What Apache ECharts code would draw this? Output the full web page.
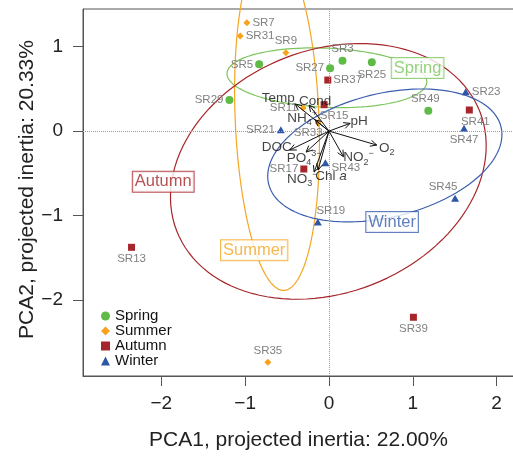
<!DOCTYPE html>
<html><head><meta charset="utf-8">
<script src="https://cdn.jsdelivr.net/npm/echarts@6/dist/echarts.min.js"></script>
<style>html,body{margin:0;padding:0;background:#fff}#c{width:513px;height:459px}</style>
</head><body><div id="c"></div>
<script>
// ---------- data ----------
const xTicks = [-2, -1, 0, 1, 2];
const yTicks = [-2, -1, 0, 1];

const springNames = ['SR5', 'SR29', 'SR27', 'SR3', 'SR25', 'SR49'];
const springX = [-0.833, -1.187, 0.014, 0.161, 0.511, 1.185];
const springY = [0.791, 0.368, 0.744, 0.834, 0.815, 0.242];

const summerNames = ['SR7', 'SR31', 'SR9', 'SR11', 'SR33', 'SR35'];
const summerX = [-0.979, -1.059, -0.514, -0.308, -0.129, -0.729];
const summerY = [1.284, 1.127, 0.929, 0.274, 0.096, -2.739];

const autumnNames = ['SR37', 'SR15', 'SR17', 'SR13', 'SR39', 'SR41'];
const autumnX = [-0.014, -0.058, -0.300, -2.355, 1.007, 1.674];
const autumnY = [0.605, 0.313, -0.449, -1.377, -2.206, 0.250];

const winterNames = ['SR21', 'SR43', 'SR19', 'SR23', 'SR47', 'SR45'];
const winterX = [-0.574, -0.042, -0.133, 1.631, 1.611, 1.504];
const winterY = [0.017, -0.374, -1.077, 0.467, 0.033, -0.796];

const varNames = ['Temp', 'Cond', 'NH4', 'pH', 'O2', 'NO2', 'DOC', 'PO4', 'NO3', 'Chla'];
const varX = [-0.403, -0.237, -0.165, 0.252, 0.570, 0.172, -0.467, -0.272, -0.177, -0.130];
const varY = [0.321, 0.309, 0.132, 0.092, -0.165, -0.303, -0.224, -0.248, -0.485, -0.461];

// ---------- layout / style ----------
const XMIN = -2.934, XMAX = 2.207, YMIN = -2.902, YMAX = 1.447;
const FONT = '"Liberation Sans", Arial, Helvetica, sans-serif';
const colors = { Spring: '#5DBB46', Summer: '#F7A21B', Autumn: '#A6262B', Winter: '#2E56A6' };
const ellipseColors = { Spring: '#7CC55C', Summer: '#F5A623', Autumn: '#A6262B', Winter: '#3A5FAE' };
const classLabelPos = { Spring: [1.057, 0.748], Autumn: [-1.977, -0.600], Summer: [-0.892, -1.412], Winter: [0.753, -1.077] };
const pointLabel = {
  SR5: ['left'], SR29: ['left'], SR27: ['left'], SR3: ['top'], SR25: ['bottom'], SR49: ['top', [-3, 0]],
  SR7: ['right'], SR31: ['right'], SR9: ['top'], SR11: ['left'], SR33: ['bottom', [-10, -2]], SR35: ['top'],
  SR37: ['right'], SR15: ['bottom', [10, 0]], SR17: ['left'], SR13: ['bottom'], SR39: ['bottom'], SR41: ['bottom', [6, 0]],
  SR21: ['left'], SR43: ['right', [0, 5]], SR19: ['top', [13, 0]], SR23: ['right'], SR47: ['bottom'], SR45: ['top', [-12, 0]]
};
const varLabel = {
  Temp: ['{m|Temp}', [-17, -6]],
  Cond: ['{m|Cond}', [6, -4]],
  NH4: ['{m|NH}{s|4}{p|+}', [-13, -2]],
  pH: ['{m|pH}', [9, -2]],
  O2: ['{m|O}{s|2}', [10, 3]],
  NO2: ['{m|NO}{s|2}{p|−}', [15, 1]],
  DOC: ['{m|DOC}', [-13, -3]],
  PO4: ['{m|PO}{s|4}{p|3−}', [-2, 6]],
  NO3: ['{m|NO}{s|3}{p|−}', [-12, 7]],
  Chla: ['{m|Chl }{i|a}', [13, 6]]
};

// ade4-style inertia ellipse (cellipse = 1.5) computed from class points
function classEllipse(xs, ys, coeff) {
  const n = xs.length;
  const mx = xs.reduce((a, b) => a + b, 0) / n;
  const my = ys.reduce((a, b) => a + b, 0) / n;
  let vx = 0, vy = 0, cxy = 0;
  for (let i = 0; i < n; i++) {
    vx += (xs[i] - mx) ** 2 / n; vy += (ys[i] - my) ** 2 / n; cxy += (xs[i] - mx) * (ys[i] - my) / n;
  }
  const delta = Math.sqrt((vx - vy) ** 2 + 4 * cxy * cxy);
  let l1 = (vx + vy + delta) / 2, l2 = vx + vy - l1;
  l1 = Math.sqrt(Math.max(l1, 0)); l2 = Math.sqrt(Math.max(l2, 0));
  let a0 = 1, b0 = (l1 * l1 - vx) / cxy;
  const nn = Math.sqrt(a0 * a0 + b0 * b0); a0 /= nn; b0 /= nn;
  const c11 = coeff * a0 * l1, c12 = -coeff * b0 * l2, c21 = coeff * b0 * l1, c22 = coeff * a0 * l2;
  const pts = [];
  for (let i = 0; i <= 120; i++) {
    const t = 2 * Math.PI * i / 120;
    pts.push([mx + c11 * Math.cos(t) + c12 * Math.sin(t), my + c21 * Math.cos(t) + c22 * Math.sin(t)]);
  }
  return pts;
}

const groups = [
  { name: 'Spring', names: springNames, xs: springX, ys: springY, symbol: 'circle', size: 8 },
  { name: 'Summer', names: summerNames, xs: summerX, ys: summerY, symbol: 'diamond', size: 7 },
  { name: 'Autumn', names: autumnNames, xs: autumnX, ys: autumnY, symbol: 'rect', size: 7 },
  { name: 'Winter', names: winterNames, xs: winterX, ys: winterY, symbol: 'triangle', size: [8, 7] }
];

const series = [];
// zero reference lines
series.push({
  type: 'scatter', data: [], silent: true, z: 1,
  markLine: {
    silent: true, symbol: ['none', 'none'], label: { show: false },
    lineStyle: { type: 'dotted', color: '#9a9a9a', width: 1 },
    data: [{ xAxis: 0 }, { yAxis: 0 }], animation: false
  }
});
// ellipses
groups.forEach(g => {
  series.push({
    type: 'line', name: g.name + ' ellipse', data: classEllipse(g.xs, g.ys, 1.5),
    showSymbol: false, symbol: 'none', clip: false, silent: true, z: 2,
    lineStyle: { color: ellipseColors[g.name], width: 1.2 }
  });
});
// points
groups.forEach(g => {
  series.push({
    type: 'scatter', name: g.name, symbol: g.symbol, symbolSize: g.size, z: 3,
    itemStyle: { color: colors[g.name], opacity: 1 },
    data: g.names.map((nm, i) => {
      const pl = pointLabel[nm] || ['top'];
      return { name: nm, value: [g.xs[i], g.ys[i]], label: { position: pl[0], offset: pl[1] || [0, 0] } };
    }),
    label: { show: true, formatter: p => p.name, color: '#808080', fontSize: 11.5, fontFamily: FONT, distance: 2 }
  });
});
// arrows
series.push({
  type: 'custom', z: 5, silent: true,
  data: varX.map((x, i) => [x, varY[i]]),
  renderItem: function (params, api) {
    const p0 = api.coord([0, 0]);
    const p1 = api.coord([api.value(0), api.value(1)]);
    const ang = Math.atan2(p1[1] - p0[1], p1[0] - p0[0]);
    const L = 7, a = Math.PI / 7;
    const h1 = [p1[0] - L * Math.cos(ang - a), p1[1] - L * Math.sin(ang - a)];
    const h2 = [p1[0] - L * Math.cos(ang + a), p1[1] - L * Math.sin(ang + a)];
    return {
      type: 'group', children: [
        { type: 'line', shape: { x1: p0[0], y1: p0[1], x2: p1[0], y2: p1[1] }, style: { stroke: '#111', lineWidth: 1 } },
        { type: 'polyline', shape: { points: [h1, p1, h2] }, style: { stroke: '#111', fill: null, lineWidth: 1 } }
      ]
    };
  }
});
// arrow labels
series.push({
  type: 'scatter', symbolSize: 0, silent: true, z: 6,
  data: varNames.map((nm, i) => ({
    name: nm, value: [varX[i], varY[i]],
    label: { formatter: varLabel[nm][0], offset: varLabel[nm][1] }
  })),
  label: {
    show: true, position: 'inside',
    rich: {
      m: { fontSize: 13.5, color: '#111', fontFamily: FONT, lineHeight: 18 },
      i: { fontSize: 13.5, color: '#111', fontFamily: FONT, fontStyle: 'italic', lineHeight: 18 },
      s: { fontSize: 9, color: '#111', fontFamily: FONT, lineHeight: 10, verticalAlign: 'bottom' },
      p: { fontSize: 9, color: '#111', fontFamily: FONT, lineHeight: 10, verticalAlign: 'top' }
    }
  }
});
// class labels
series.push({
  type: 'scatter', symbolSize: 0, silent: true, z: 7,
  data: groups.map(g => ({
    name: g.name, value: classLabelPos[g.name],
    label: { color: ellipseColors[g.name], borderColor: ellipseColors[g.name] }
  })),
  label: {
    show: true, position: 'inside', formatter: p => p.name, fontSize: 16.5, fontFamily: FONT,
    backgroundColor: '#fff', borderWidth: 1, padding: [2, 2, 1, 2]
  }
});

const fmt = v => (v < 0 ? '−' + Math.abs(v) : String(v));
const option = {
  animation: false,
  backgroundColor: '#fff',
  grid: { left: 83, top: 9, width: 431, height: 367, show: true, borderColor: '#555', borderWidth: 1, backgroundColor: 'transparent', containLabel: false, outerBoundsMode: 'none' },
  xAxis: {
    type: 'value', min: XMIN, max: XMAX,
    name: 'PCA1, projected inertia: 22.00%', nameLocation: 'middle', nameGap: 54,
    nameTextStyle: { fontSize: 21, color: '#222', fontFamily: FONT },
    axisLine: { show: true, onZero: false, lineStyle: { color: '#555', width: 1 } },
    axisTick: { show: true, length: 10, customValues: xTicks, lineStyle: { color: '#555' } },
    axisLabel: { customValues: xTicks, formatter: fmt, fontSize: 19, color: '#222', margin: 18, fontFamily: FONT },
    splitLine: { show: false }
  },
  yAxis: {
    type: 'value', min: YMIN, max: YMAX,
    name: 'PCA2, projected inertia: 20.33%', nameLocation: 'middle', nameGap: 45, nameMoveOverlap: false,
    nameTextStyle: { fontSize: 21, color: '#222', fontFamily: FONT, padding: [0, 0, 0, 6] },
    axisLine: { show: true, onZero: false, lineStyle: { color: '#555', width: 1 } },
    axisTick: { show: true, length: 10, customValues: yTicks, lineStyle: { color: '#555' } },
    axisLabel: { customValues: yTicks, formatter: fmt, fontSize: 19, color: '#222', margin: 20, fontFamily: FONT },
    splitLine: { show: false }
  },
  legend: {
    orient: 'vertical', left: 96, top: 303.5, itemGap: 0, itemWidth: 9, itemHeight: 9,
    textStyle: { fontSize: 15, color: '#111', fontFamily: FONT, lineHeight: 14.7 },
    selectedMode: false,
    data: [
      { name: 'Spring', icon: 'circle' }, { name: 'Summer', icon: 'diamond' },
      { name: 'Autumn', icon: 'rect' }, { name: 'Winter', icon: 'triangle' }
    ]
  },
  series: series
};
const chart = echarts.init(document.getElementById('c'), null, { renderer: 'canvas' });
chart.setOption(option);
</script>
</body></html>
